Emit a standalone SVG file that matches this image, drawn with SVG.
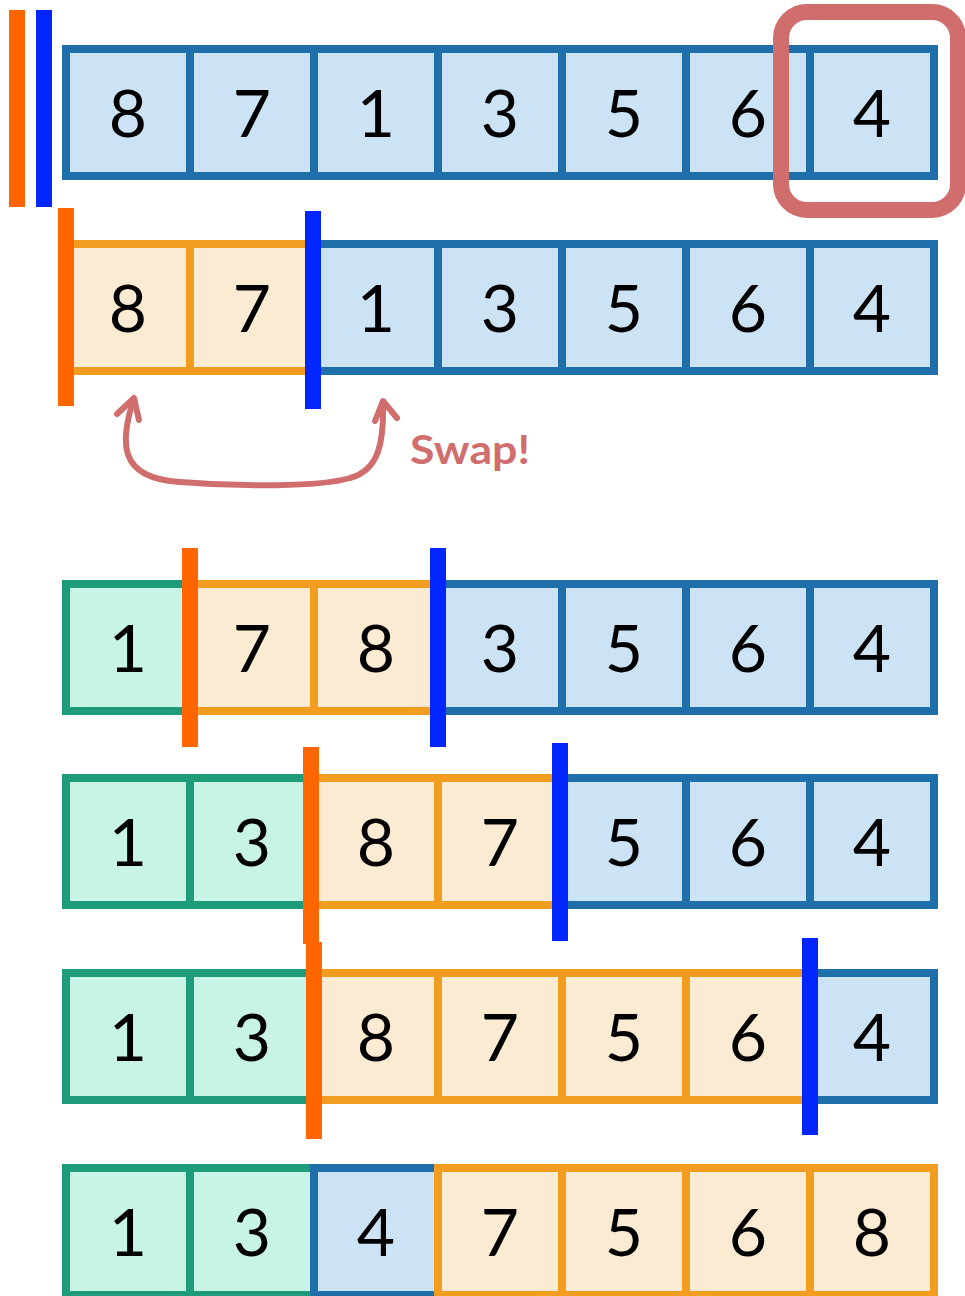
<svg xmlns="http://www.w3.org/2000/svg" width="965" height="1296" viewBox="0 0 965 1296">
<style>
.b rect{fill:#CCE3F5;stroke:#1F6FAB;stroke-width:8}
.o rect{fill:#FCEBD3;stroke:#F29D1F;stroke-width:8}
.g rect{fill:#C8F4E7;stroke:#1E9C7A;stroke-width:8}
text.d{font-family:Lato,"DejaVu Sans",sans-serif;font-size:66px;fill:#000;text-anchor:middle}
.ob{fill:#FF6600}
.bb{fill:#0026FF}
.sw{fill:none;stroke:#D06E6E;stroke-width:6;stroke-linecap:round;stroke-linejoin:round}
</style>
<rect width="965" height="1296" fill="#fff"/>
<!-- Row 1 -->
<g id="row1">
<g id="r1c1" class="b"><rect x="66" y="49" width="124" height="127"/><text class="d" x="128" y="137">8</text></g>
<g id="r1c2" class="b"><rect x="190" y="49" width="124" height="127"/><text class="d" x="252" y="137">7</text></g>
<g id="r1c3" class="b"><rect x="314" y="49" width="124" height="127"/><text class="d" x="376" y="137">1</text></g>
<g id="r1c4" class="b"><rect x="438" y="49" width="124" height="127"/><text class="d" x="500" y="137">3</text></g>
<g id="r1c5" class="b"><rect x="562" y="49" width="124" height="127"/><text class="d" x="624" y="137">5</text></g>
<g id="r1c6" class="b"><rect x="686" y="49" width="124" height="127"/><text class="d" x="748" y="137">6</text></g>
<g id="r1c7" class="b"><rect x="810" y="49" width="124" height="127"/><text class="d" x="872" y="137">4</text></g>
</g>
<g id="pivot-highlight"><rect x="781" y="12" width="177" height="198" rx="26" fill="none" stroke="#D06E6E" stroke-width="16"/></g>
<g id="row1-markers"><rect class="ob" x="9" y="10" width="16" height="197"/><rect class="bb" x="36" y="10" width="16" height="197"/></g>
<!-- Row 2 -->
<g id="row2">
<g id="r2c1" class="o"><rect x="66" y="244" width="124" height="127"/><text class="d" x="128" y="332">8</text></g>
<g id="r2c2" class="o"><rect x="190" y="244" width="124" height="127"/><text class="d" x="252" y="332">7</text></g>
<g id="r2c3" class="b"><rect x="314" y="244" width="124" height="127"/><text class="d" x="376" y="332">1</text></g>
<g id="r2c4" class="b"><rect x="438" y="244" width="124" height="127"/><text class="d" x="500" y="332">3</text></g>
<g id="r2c5" class="b"><rect x="562" y="244" width="124" height="127"/><text class="d" x="624" y="332">5</text></g>
<g id="r2c6" class="b"><rect x="686" y="244" width="124" height="127"/><text class="d" x="748" y="332">6</text></g>
<g id="r2c7" class="b"><rect x="810" y="244" width="124" height="127"/><text class="d" x="872" y="332">4</text></g>
</g>
<g id="row2-markers"><rect class="ob" x="58" y="208" width="16" height="198"/><rect class="bb" x="305" y="211" width="16" height="198"/></g>
<!-- Swap connector -->
<g id="connectors">
<path class="sw" d="M 133 400 C 122 440, 115 478, 180 482 C 240 487, 320 487, 350 478 C 380 470, 384 440, 383 402"/>
<polyline class="sw" points="117,414 134,398 139,420"/>
<polyline class="sw" points="375,421 383,401 397,418"/>
</g>
<g id="swap-label"><text x="410" y="464" font-family="Lato,'Open Sans',sans-serif" font-weight="bold" font-size="40" fill="#D06E6E" textLength="120" lengthAdjust="spacingAndGlyphs">Swap!</text></g>
<!-- Row 3 -->
<g id="row3">
<g id="r3c1" class="g"><rect x="66" y="584" width="124" height="127"/><text class="d" x="128" y="672">1</text></g>
<g id="r3c2" class="o"><rect x="190" y="584" width="124" height="127"/><text class="d" x="252" y="672">7</text></g>
<g id="r3c3" class="o"><rect x="314" y="584" width="124" height="127"/><text class="d" x="376" y="672">8</text></g>
<g id="r3c4" class="b"><rect x="438" y="584" width="124" height="127"/><text class="d" x="500" y="672">3</text></g>
<g id="r3c5" class="b"><rect x="562" y="584" width="124" height="127"/><text class="d" x="624" y="672">5</text></g>
<g id="r3c6" class="b"><rect x="686" y="584" width="124" height="127"/><text class="d" x="748" y="672">6</text></g>
<g id="r3c7" class="b"><rect x="810" y="584" width="124" height="127"/><text class="d" x="872" y="672">4</text></g>
</g>
<g id="row3-markers"><rect class="ob" x="182" y="548" width="16" height="199"/><rect class="bb" x="430" y="548" width="16" height="199"/></g>
<!-- Row 4 -->
<g id="row4">
<g id="r4c1" class="g"><rect x="66" y="778" width="124" height="127"/><text class="d" x="128" y="866">1</text></g>
<g id="r4c2" class="g"><rect x="190" y="778" width="124" height="127"/><text class="d" x="252" y="866">3</text></g>
<g id="r4c3" class="o"><rect x="314" y="778" width="124" height="127"/><text class="d" x="376" y="866">8</text></g>
<g id="r4c4" class="o"><rect x="438" y="778" width="124" height="127"/><text class="d" x="500" y="866">7</text></g>
<g id="r4c5" class="b"><rect x="562" y="778" width="124" height="127"/><text class="d" x="624" y="866">5</text></g>
<g id="r4c6" class="b"><rect x="686" y="778" width="124" height="127"/><text class="d" x="748" y="866">6</text></g>
<g id="r4c7" class="b"><rect x="810" y="778" width="124" height="127"/><text class="d" x="872" y="866">4</text></g>
</g>
<g id="row4-markers"><rect class="ob" x="303" y="747" width="16" height="197"/><rect class="bb" x="552" y="743" width="16" height="198"/></g>
<!-- Row 5 -->
<g id="row5">
<g id="r5c1" class="g"><rect x="66" y="973" width="124" height="127"/><text class="d" x="128" y="1061">1</text></g>
<g id="r5c2" class="g"><rect x="190" y="973" width="124" height="127"/><text class="d" x="252" y="1061">3</text></g>
<g id="r5c3" class="o"><rect x="314" y="973" width="124" height="127"/><text class="d" x="376" y="1061">8</text></g>
<g id="r5c4" class="o"><rect x="438" y="973" width="124" height="127"/><text class="d" x="500" y="1061">7</text></g>
<g id="r5c5" class="o"><rect x="562" y="973" width="124" height="127"/><text class="d" x="624" y="1061">5</text></g>
<g id="r5c6" class="o"><rect x="686" y="973" width="124" height="127"/><text class="d" x="748" y="1061">6</text></g>
<g id="r5c7" class="b"><rect x="810" y="973" width="124" height="127"/><text class="d" x="872" y="1061">4</text></g>
</g>
<g id="row5-markers"><rect class="ob" x="306" y="942" width="16" height="197"/><rect class="bb" x="802" y="938" width="16" height="197"/></g>
<!-- Row 6 -->
<g id="row6">
<g id="r6c1" class="g"><rect x="66" y="1168" width="124" height="127"/><text class="d" x="128" y="1256">1</text></g>
<g id="r6c2" class="g"><rect x="190" y="1168" width="124" height="127"/><text class="d" x="252" y="1256">3</text></g>
<g id="r6c3" class="b"><rect x="314" y="1168" width="124" height="127"/><text class="d" x="376" y="1256">4</text></g>
<g id="r6c4" class="o"><rect x="438" y="1168" width="124" height="127"/><text class="d" x="500" y="1256">7</text></g>
<g id="r6c5" class="o"><rect x="562" y="1168" width="124" height="127"/><text class="d" x="624" y="1256">5</text></g>
<g id="r6c6" class="o"><rect x="686" y="1168" width="124" height="127"/><text class="d" x="748" y="1256">6</text></g>
<g id="r6c7" class="o"><rect x="810" y="1168" width="124" height="127"/><text class="d" x="872" y="1256">8</text></g>
</g>
</svg>
